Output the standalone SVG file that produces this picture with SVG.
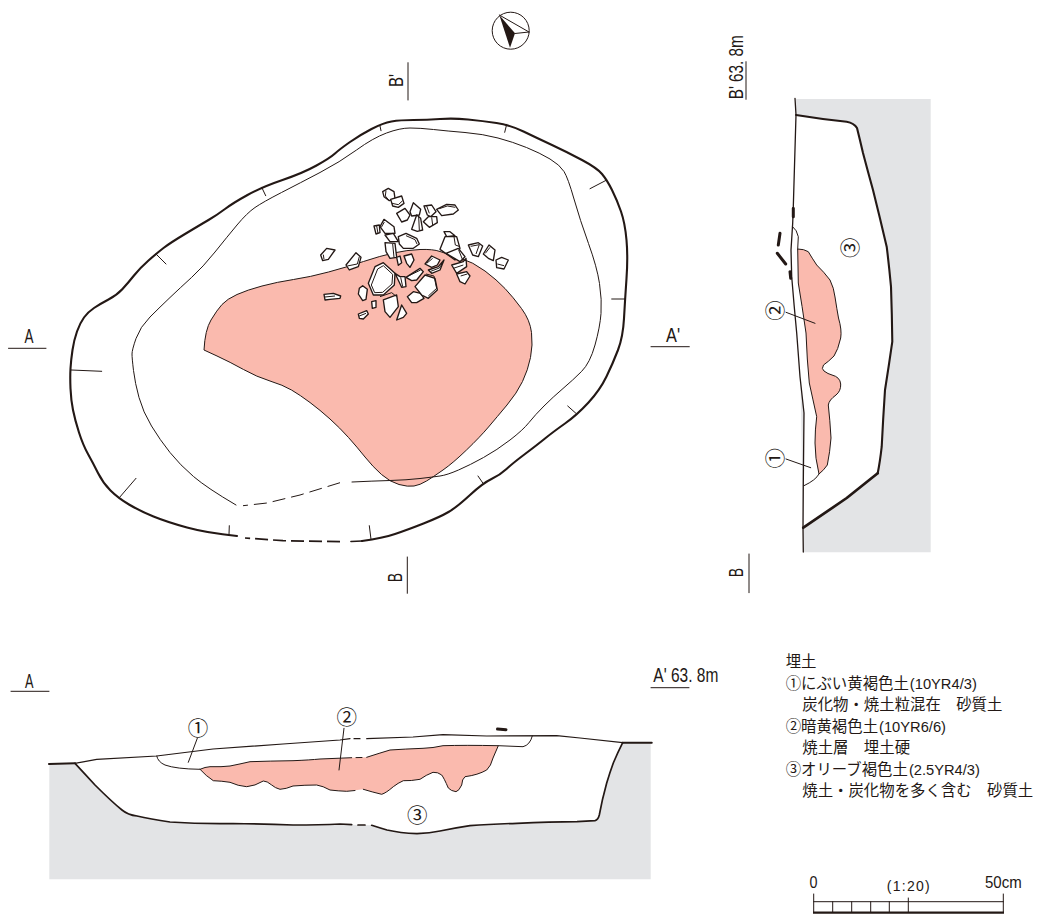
<svg xmlns="http://www.w3.org/2000/svg" width="1039" height="916" viewBox="0 0 1039 916">
<style>
.thick{fill:none;stroke:#231815;stroke-width:2.1;stroke-linejoin:round;stroke-linecap:round}
.mid{fill:none;stroke:#231815;stroke-width:1.7;stroke-linejoin:round;stroke-linecap:round}
.thin{fill:none;stroke:#231815;stroke-width:1;stroke-linejoin:round;stroke-linecap:round}
.mark{fill:none;stroke:#231815;stroke-width:3;stroke-linecap:round}
.pink{fill:#fabaae}
.pinkline{fill:#fabaae;stroke:#231815;stroke-width:1;stroke-linejoin:round}
.grey{fill:#e3e4e6}
.stone{fill:#fff;stroke:#231815;stroke-width:4;stroke-linejoin:round}
.in{fill:none;stroke:#231815;stroke-width:3;stroke-linejoin:round}
.lab{font-family:"Liberation Sans",sans-serif;fill:#231815;font-size:19.5px}
.num{font-family:"Liberation Sans",sans-serif;fill:#231815;font-size:17px}
.cn{font-family:"Noto Sans CJK JP",sans-serif;fill:#231815;font-size:20.5px;text-anchor:middle}
.leg{font-family:"Noto Sans CJK JP",sans-serif;fill:#231815;font-size:15.4px}
.lat{font-family:"Liberation Sans",sans-serif;font-size:14.7px}
</style>

<g id="compass">
<circle cx="510.7" cy="30.7" r="18.5" fill="#fff" stroke="#231815" stroke-width="1"/>
<path class="thin" d="M499.3 15L529 32M515 33.5L529 32"/>
<path d="M499.3 15L515 33.3L510 47.7Z" fill="#231815"/>
</g>

<g id="plan">
<path class="pinkline" d="M204 350Q205 330 211 320Q217 310 222 304.5Q227 299 237 294.5Q247 290 262 286Q277 282 293.5 279.5Q310 277 328.5 272Q347 267 363.5 261.5Q380 256 393.5 253Q407 250 420 249.5Q433 249 440 251.5Q447 254 460 258Q473 262 485 271Q497 280 505 288.5Q513 297 521.5 308.5Q530 320 531.5 332.5Q533 345 530.5 357.5Q528 370 522.5 381.5Q517 393 507 405Q497 417 488.5 427Q480 437 466.5 450Q453 463 443 470Q433 477 426.5 481Q420 485 414 486Q408 487 399 484.5Q390 482 381.5 474.5Q373 467 365 457Q357 447 348.5 437.5Q340 428 330 419Q320 410 310 402.5Q300 395 291.5 390Q283 385 270 381Q257 377 243.5 369.5Q230 362 217 356L204 350Z"/>
<path class="thick" d="M237 536Q207 533 187 527.5Q167 522 153.5 516.5Q140 511 129 504.5Q118 498 110.5 490.5Q103 483 98 473Q93 463 88 454Q83 445 79 432.5Q75 420 73 410Q71 400 70.5 388.5Q70 377 70.5 368.5Q71 360 72.5 350Q74 340 77 331.5Q80 323 84 317.5Q88 312 94 308Q100 304 108.5 299.5Q117 295 122.5 289Q128 283 134 275.5Q140 268 148.5 260.5Q157 253 163.5 248Q170 243 185 234Q200 225 208.5 220Q217 215 225 209Q233 203 247.5 195Q262 187 282.5 180Q303 173 316.5 165.5Q330 158 335 153.5Q340 149 350 142Q360 135 371.5 129Q383 123 391.5 121.5Q400 120 413.5 120Q427 120 440 119Q453 118 468 119.5Q483 121 496.5 123Q510 125 523.5 131.5Q537 138 552 145Q567 152 582 160Q597 168 602 174Q607 180 612 190Q617 200 621 211.5Q625 223 626.5 240Q628 257 626.5 278.5Q625 300 624 318.5Q623 337 618 350Q613 363 606.5 376.5Q600 390 588.5 402.5Q577 415 565 423.5Q553 432 545 438.5Q537 445 525 454Q513 463 506.5 469Q500 475 491.5 479Q483 483 470 495Q457 507 448.5 512Q440 517 423.5 523.5Q407 530 395 534Q383 538 362 541"/>
<path class="mid" d="M362 541L351 541.5" />
<path class="mid" stroke-dasharray="13 5" style="stroke-linecap:butt" d="M340 541.7L283 540.7L245 538"/>
<path class="thin" d="M236 505Q207 488 193.5 476.5Q180 465 170 452.5Q160 440 151.5 426Q143 412 139 397.5Q135 383 133.5 370.5Q132 358 132 354Q132 350 136 338.5Q140 327 150 317Q160 307 170 297.5Q180 288 191.5 277.5Q203 267 215 252Q227 237 237 225Q247 213 255 207.5Q263 202 281.5 192.5Q300 183 320 172.5Q340 162 356.5 150Q373 138 386.5 133Q400 128 410 128Q420 128 433.5 129.5Q447 131 465 132.5Q483 134 498 138Q513 142 526.5 147.5Q540 153 550 159Q560 165 564 171.5Q568 178 574 199Q580 220 588.5 243.5Q597 267 599.5 283.5Q602 300 601 313.5Q600 327 595 345Q590 363 581.5 371.5Q573 380 563 388.5Q553 397 544 406Q535 415 529 422.5Q523 430 510 440Q497 450 483.5 457.5Q470 465 458.5 470Q447 475 440 476Q433 477 420 478.5Q407 480 390 480.5Q373 481 352 482"/>
<path class="thin" stroke-dasharray="13 6" style="stroke-linecap:butt" d="M340 482.7L300 495L267 503L243 505.7"/>
<path class="thin" d="M156 254L166 264M261.7 187.3L265.7 195.7M380 126L381 130.7M506.7 124.3L504.7 132.3M606.7 180L590 188.7M625 299L611.7 299M576.7 414L567.7 406M483 483.3L478 476M371 539.3L369.3 525.7M229 534.3L229.3 525.7M119.3 497.7L136 478.3M71 370L101.7 371.3"/>
</g>

<g id="stones" transform="translate(300 170) scale(.33333)">
<polygon class="stone" points="248,65 265,55 282,65 285,85 268,92 252,80"/>
<polyline class="in" points="258,62 256,78 266,90"/>
<polygon class="stone" points="272,88 305,78 312,100 295,112 278,108"/>
<polyline class="in" points="276,100 295,104 308,92"/>
<polygon class="stone" points="290,130 315,115 330,135 322,150 305,156"/>
<polygon class="stone" points="330,125 340,98 362,118 358,135 335,138"/>
<polygon class="stone" points="335,178 350,135 362,145 368,180 352,184"/>
<polyline class="in" points="356,140 358,180"/>
<polygon class="stone" points="372,108 395,105 408,125 392,140 382,135"/>
<polyline class="in" points="380,108 388,130"/>
<polygon class="stone" points="370,155 385,140 410,140 412,158 388,172"/>
<polyline class="in" points="395,142 398,165"/>
<polygon class="stone" points="410,118 440,103 465,105 475,120 460,132 425,137"/>
<polyline class="in" points="418,116 442,108 466,112"/>
<polygon class="stone" points="222,168 238,165 240,188 228,192"/>
<polyline class="in" points="230,168 234,190"/>
<polygon class="stone" points="240,170 252,148 282,170 285,190 255,190"/>
<polyline class="in" points="244,172 253,156"/>
<polygon class="stone" points="255,195 280,190 295,215 270,215"/>
<polygon class="stone" points="295,200 318,190 350,205 358,222 340,235 310,235 298,222"/>
<polyline class="in" points="318,197 345,209 351,222"/>
<polygon class="stone" points="255,218 285,220 290,262 270,265 258,245"/>
<polyline class="in" points="278,222 282,262"/>
<polygon class="stone" points="290,262 300,258 305,278 295,286"/>
<polygon class="stone" points="312,258 335,252 342,270 330,292 320,280"/>
<polygon class="stone" points="62,255 80,235 105,240 85,268 68,272"/>
<polyline class="in" points="70,254 72,268"/>
<polygon class="stone" points="138,285 168,248 183,262 175,290 148,300"/>
<polyline class="in" points="142,288 172,282 178,260"/>
<polygon class="stone" points="72,373 100,370 122,378 120,385 90,388 75,390"/>
<polyline class="in" points="75,381 105,378"/>
<polygon class="stone" points="178,355 188,347 202,358 198,388 188,392 175,372"/>
<polygon class="stone" points="175,432 200,422 205,432 190,447 178,445"/>
<polyline class="in" points="178,438 198,430"/>
<polygon class="stone" points="215,395 228,392 228,412 217,415"/>
<polygon class="stone" points="205,340 225,290 250,278 285,310 283,345 250,375 220,375"/>
<polyline class="in" points="214,345 233,297 250,287 278,313 276,342 248,367 224,368 214,345"/>
<polygon class="stone" points="285,310 300,320 315,320 318,350 305,352"/>
<polyline class="in" points="302,322 308,350"/>
<polygon class="stone" points="318,322 360,295 370,305 350,330 335,332"/>
<polyline class="in" points="325,318 362,300"/>
<polygon class="stone" points="250,390 290,375 295,410 270,442 255,425"/>
<polyline class="in" points="240,380 275,368 290,380"/>
<polygon class="stone" points="290,450 305,405 320,430 310,442"/>
<polygon class="stone" points="322,380 340,365 362,370 372,385 350,398 335,398"/>
<polygon class="stone" points="345,350 375,315 405,325 412,360 385,385 365,375"/>
<polyline class="in" points="378,312 402,318 410,355 385,378"/>
<polygon class="stone" points="375,282 395,258 420,270 412,285 395,292"/>
<polyline class="in" points="380,280 398,265"/>
<polygon class="stone" points="385,300 415,290 432,270 420,300 395,310"/>
<polyline class="in" points="392,304 418,294 428,278"/>
<polygon class="stone" points="432,185 450,185 465,197 440,200"/>
<polygon class="stone" points="420,238 435,200 470,200 480,235 465,270"/>
<polyline class="in" points="462,200 466,225 480,230"/>
<polygon class="stone" points="438,250 475,235 495,260 480,275"/>
<polyline class="in" points="476,240 490,275"/>
<polygon class="stone" points="455,285 490,275 498,265 500,290 470,310"/>
<polyline class="in" points="460,295 490,285"/>
<polygon class="stone" points="470,312 500,305 510,318 495,342 480,335"/>
<polyline class="in" points="482,318 502,312"/>
<polygon class="stone" points="505,225 535,218 548,228 535,260 518,255"/>
<polyline class="in" points="512,229 538,224 528,252"/>
<polygon class="stone" points="550,252 567,225 585,240 580,272 565,265"/>
<polyline class="in" points="556,250 570,232"/>
<polygon class="stone" points="588,270 605,262 625,270 612,297 590,293"/>
<polyline class="in" points="592,282 612,287"/>
</g>

<g id="plan-labels">
<path class="thin" d="M8.5 348.3H46M651 346.7H689.3M408 62.7V100M407.3 557V593.3"/>
<text class="lab" x="24.5" y="343.3" textLength="9" lengthAdjust="spacingAndGlyphs">A</text>
<text class="lab" x="666" y="342" textLength="14" lengthAdjust="spacingAndGlyphs">A'</text>
<text class="lab" transform="translate(402.7 87) rotate(-90)" textLength="13" lengthAdjust="spacingAndGlyphs">B'</text>
<text class="lab" transform="translate(401.7 582) rotate(-90)" textLength="9" lengthAdjust="spacingAndGlyphs">B</text>
</g>

<g id="section-bb">
<path class="grey" d="M796 99H930.7V552.3H803.3L803 527L796 115Z"/>
<path fill="#fff" d="M796 115Q820 119 846.7 121.7Q854 123 857 128Q860 140 863 153Q868 172 873 190Q880 218 886.7 246.7Q889 265 891 286.7Q892 315 892.3 341.7Q889 365 885 390Q883 420 881.7 446.7Q880 462 877.7 473.3L846.7 498L803.3 527.7L804 413L800 376.7L796.7 333L791.7 276.7L791 250L793 206Z"/>
<path class="pinkline" d="M797.7 249Q804 249 808.3 251.7Q812 258 816.7 265Q824 272 830 280Q834 288 835 297Q837 310 838.5 318Q842 330 840.7 338Q838 350 834 356Q828 362 823.5 365Q821 369 824 371Q828 374 832 375Q840 377 840.7 384Q841 391 836 395Q829 400 828.3 405Q830 420 831 438Q830 452 827.3 465Q824 470 819 474Q815 458 815 443Q815 430 816.7 416.7Q813 400 809.3 383Q807 360 806 333Q802 305 798.3 283Z"/>
<path class="thin" d="M792.7 226.7Q797 230 798.3 236.7L797.7 249M819 474Q816 480 804 485.7"/>
<path class="mid" style="stroke-width:1.3" d="M795 98.3L796 115L793.3 206.7L792.7 223L791 250L791.7 276.7Q794 305 796.7 333L800 376.7L804 413L803.3 483L803 527.7L803.3 552"/>
<path class="thick" d="M796 115Q820 119 846.7 121.7Q854 123 857 128Q860 140 863 153Q868 172 873 190Q880 218 886.7 246.7Q889 265 891 286.7Q892 315 892.3 341.7Q889 365 885 390Q883 420 881.7 446.7Q880 462 877.7 473.3"/>
<path class="thick" style="stroke-width:2.7" d="M877.7 473.3L846.7 498L803.3 527.7"/>
<path class="mark" d="M793.3 208.3V216.7M780 233.3L778.3 245M777.3 253.3L785.7 264M790 271.7L790.7 278.3"/>
<path class="thin" d="M786 312.3L815 323.3M786 459L810.7 467.7"/>
<text class="cn" transform="translate(858 247.7) rotate(-90)">③</text>
<text class="cn" transform="translate(783 310.5) rotate(-90)">②</text>
<text class="cn" transform="translate(783 458.3) rotate(-90)">①</text>
<path class="thin" d="M746 61.7V99.3M749 554V592.7"/>
<text class="lab" transform="translate(742.7 99.3) rotate(-90)" textLength="64" lengthAdjust="spacingAndGlyphs">B' 63. 8m</text>
<text class="lab" transform="translate(742.7 577) rotate(-90)" textLength="9" lengthAdjust="spacingAndGlyphs">B</text>
</g>

<g id="section-aa">
<path class="grey" d="M49.3 764L75 763.4L622.7 742.7H650.7V879.3H49.3Z"/>
<path fill="#fff" d="M75 763.3L96.7 759.3L156.7 756L213 749L283 744L340 740L413 737L443 734.7L486.7 736L556.7 735.7L580 738L622.7 742.7Q618 752 613.3 763Q610 772 606.7 783Q602 800 599.3 815Q598 820 595 820.7Q590 821 577 821.7Q550 822 517 823.3Q490 824 470 825.7Q455 828 440 831Q430 833 417 833.7Q400 833 387 830Q380 828 371.7 825.3L351.7 824.7L340 824Q320 825 293 825Q265 824 233 823.5Q200 824 170 822Q150 819 137 816Q128 815 122 810Q112 802 95 785Q85 774 75 763.3Z"/>
<path class="pink" d="M200 769.3Q205 767 210 766.7Q222 767 230 766Q240 764 250 761.7Q270 761 293 760.7Q310 760 320 759L351.7 757.7L366.7 757.3Q380 753 390 750Q405 749 423 748.3Q433 748 443 745.7Q465 745 498.3 745.7L493 758Q491 766 486.7 770Q478 775 465 776.7Q462 779 461.7 785Q459 791 456 791.7Q451 791 448.3 788Q444 778 441.7 775Q438 772 433 772.3Q426 775 420 779.3Q411 781 403.3 780.7Q398 783 393.3 786.7Q386 793 381.7 794.3Q372 792 363.3 789.3L346.7 791.3Q338 791 330 790Q323 786 316.7 785Q305 785 293 786Q286 789 280 789.3Q275 788 271.7 785Q267 781 263.3 781Q255 786 246.7 786.7Q238 786 230 782.3Q222 781 213.3 780.7Q206 776 200 769.3Z"/>
<path class="thin" d="M156.7 756Q158 762 165 765Q176 769 200 769.3Q205 767 210 766.7Q222 767 230 766Q240 764 250 761.7Q270 761 293 760.7Q310 760 320 759L351.7 757.7M356 757.6L362 757.5M366.7 757.3Q380 753 390 750Q405 749 423 748.3Q433 748 443 745.7Q465 745 498.3 745.7L523 746.7Q530 745 532.3 736M498.3 745.7L493 758Q491 766 486.7 770Q478 775 465 776.7Q462 779 461.7 785Q459 791 456 791.7Q451 791 448.3 788Q444 778 441.7 775Q438 772 433 772.3Q426 775 420 779.3Q411 781 403.3 780.7Q398 783 393.3 786.7Q386 793 381.7 794.3Q372 792 363.3 789.3M355 790.5L346.7 791.3Q338 791 330 790Q323 786 316.7 785Q305 785 293 786Q286 789 280 789.3Q275 788 271.7 785Q267 781 263.3 781Q255 786 246.7 786.7Q238 786 230 782.3Q222 781 213.3 780.7Q206 776 200 769.3"/>
<path class="mid" style="stroke-width:1.2" d="M75 763.3L96.7 759.3L156.7 756L213 749L283 744L340 740L350 738.7M354 738.7H360M366.7 738.7L413 737L443 734.7L486.7 736L556.7 735.7L580 738L622.7 742.7"/>
<path class="thick" d="M49 764L75 763.3M622.7 742.7H651.7"/>
<path class="mid" d="M75 763.3Q85 774 95 785Q112 802 122 810Q128 815 137 816Q150 819 170 822Q200 824 233 823.5Q265 824 293 825Q320 825 340 824L351.7 824.7M358 825H365M371.7 825.3Q380 828 387 830Q400 833 417 833.7Q430 833 440 831Q455 828 470 825.7Q490 824 517 823.3Q550 822 577 821.7Q590 821 595 820.7Q598 820 599.3 815Q602 800 606.7 783Q610 772 613.3 763Q618 752 622.7 742.7"/>
<path class="mark" d="M497.5 729L506 729.7"/>
<path class="thin" d="M197.3 738.3L188.3 762.3M344 728.3L339 770"/>
<text class="cn" x="198" y="735.5">①</text>
<text class="cn" x="346.7" y="724.5">②</text>
<text class="cn" x="417.3" y="823">③</text>
<path class="thin" d="M11 691.3H49M651 687.7H689"/>
<text class="lab" x="25" y="688.3" textLength="8.5" lengthAdjust="spacingAndGlyphs">A</text>
<text class="lab" x="653.3" y="681.7" textLength="65" lengthAdjust="spacingAndGlyphs">A' 63. 8m</text>
</g>

<g id="legend">
<text class="leg" x="785.7" y="667">埋土</text>
<text class="leg" x="785.7" y="688.5">①にぶい黄褐色土<tspan class="lat" dx="1">(10YR4/3)</tspan></text>
<text class="leg" x="802.3" y="710">炭化物・焼土粒混在　砂質土</text>
<text class="leg" x="785.7" y="731.5">②暗黄褐色土<tspan class="lat" dx="1">(10YR6/6)</tspan></text>
<text class="leg" x="802.3" y="753">焼土層　埋土硬</text>
<text class="leg" x="785.7" y="774.5">③オリーブ褐色土<tspan class="lat" dx="1">(2.5YR4/3)</tspan></text>
<text class="leg" x="802.3" y="796">焼土・炭化物を多く含む　砂質土</text>
</g>

<g id="scale">
<text class="num" x="809.5" y="888.3" textLength="8" lengthAdjust="spacingAndGlyphs">0</text>
<text class="num" style="font-size:14px" x="886.7" y="890.7" textLength="43">(1:20)</text>
<text class="num" x="985" y="888.3" textLength="36.7" lengthAdjust="spacingAndGlyphs">50cm</text>
<path class="thin" d="M813.7 894V912M1003.3 894V912M908.3 898V912M813.7 901.7H1003.3M832.7 901.7V912M851.7 901.7V912M870.7 901.7V912M889.3 901.7V912"/>
<path d="M813 912.7H1004" fill="none" stroke="#231815" stroke-width="2.2"/>
</g>
</svg>
